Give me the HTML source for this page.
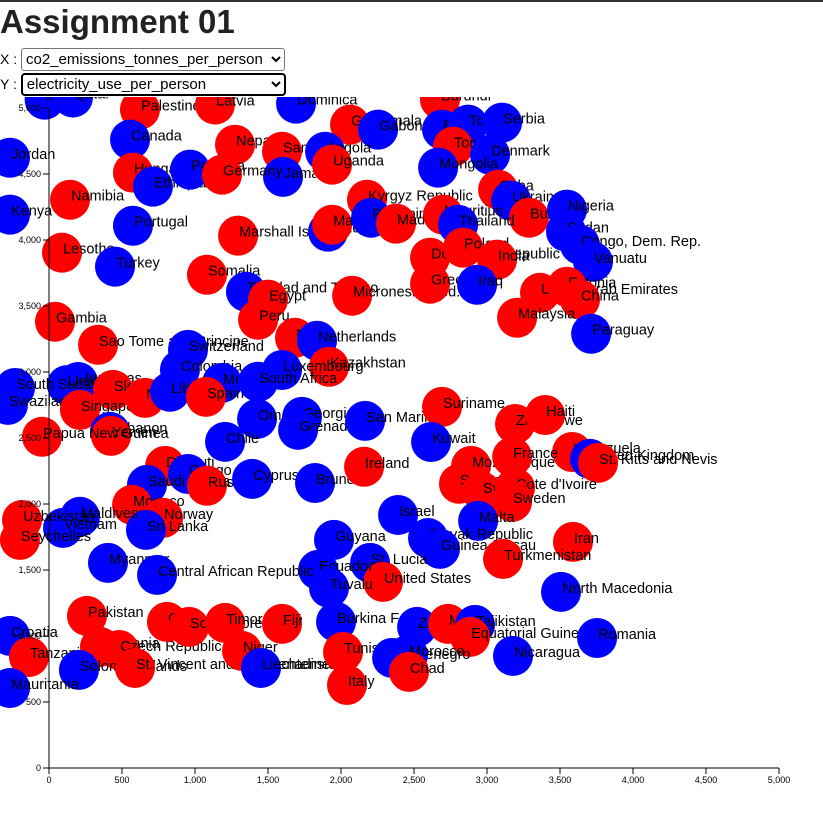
<!DOCTYPE html>
<html><head><meta charset="utf-8">
<style>
html,body{margin:0;padding:0;background:#fff;width:823px;height:817px;overflow:hidden;font-family:"Liberation Sans",sans-serif;}
#topline{position:absolute;left:0;top:0;width:823px;height:2px;background:#333;}
h1{position:absolute;left:0;top:2px;margin:0;font-size:33px;font-weight:bold;color:#222;line-height:40px;}
.row{position:absolute;left:0;font-size:14px;color:#000;}
.row select{font-family:"Liberation Sans",sans-serif;font-size:15px;height:23px;background:#fff;color:#000;}
#chart{position:absolute;left:0;top:97px;}
</style></head><body>
<div id="topline"></div>
<h1>Assignment 01</h1>
<div class="row" style="top:48px">
<span>X :</span>
<select style="width:264px;border:1px solid #767676;border-radius:3px;"><option>co2_emissions_tonnes_per_person</option></select>
</div>
<div class="row" style="top:73px">
<span>Y :</span>
<select style="width:265px;border:2px solid #000;border-radius:4px;"><option>electricity_use_per_person</option></select>
</div>
<svg id="chart" width="823" height="720"></svg>
<script>
const names=["Iceland","Qatar","Palestine","Latvia","Dominica","Burundi","Guatemala","Gabon","Canada","Jordan","Nepal","Samoa","Angola","Jamaica","Uganda","Hungary","Ethiopia","Panama","Germany","Namibia","Kenya","Portugal","Marshall Islands","Moldova","Malawi","Kyrgyz Republic","Philippines","Madagascar","Lesotho","Turkey","Somalia","Trinidad and Tobago","Egypt","Peru","Micronesia, Fed. Sts.","Gambia",
"Bahrain","Togo","Serbia","Tonga","Denmark","Mongolia","Cuba","Ukraine","Bulgaria","Nigeria","Sudan","Congo, Dem. Rep.","Vanuatu","Mauritius","Thailand","Dominican Republic","Poland","India","Greece","Iraq","United Arab Emirates","Estonia","China","Malaysia","Paraguay",
"Sao Tome and Principe","Switzerland","Colombia","Nauru","Netherlands","Kazakhstan","Luxembourg","Honduras","Uruguay","South Sudan","Swaziland","Slovenia","Singapore","New Zealand","Libya","Mexico","Spain","South Africa","Lebanon","Yemen","Papua New Guinea","Oman","Georgia","Grenada","San Marino","Chile","Djibouti","Congo, Rep.","Saudi Arabia","Russia","Cyprus","Brunei","Ireland","Monaco","Norway","Sri Lanka","Maldives","Vietnam","Uzbekistan","Seychelles",
"Suriname","Kuwait","Zimbabwe","Haiti","Venezuela","United Kingdom","St. Kitts and Nevis","Mozambique","France","Senegal","Syria","Cote d'Ivoire","Sweden","Malta","Israel","Guyana","Slovak Republic","Guinea-Bissau","Iran","Turkmenistan","St. Lucia","United States","Ecuador","Tuvalu","Myanmar","Central African Republic","North Macedonia",
"Pakistan","Croatia","Tanzania","Lithuania","Czech Republic","Solomon Islands","St. Vincent and the Grenadines","Cameroon","South Korea","Timor-Leste","Fiji","Niger","Liechtenstein","Burkina Faso","Tunisia","Italy","Mauritania","Zambia","Mali","Tajikistan","Equatorial Guinea","Montenegro","Morocco","Chad","Nicaragua","Romania"];
const co2=[-30,164,623,1137,1692,2678,2062,2254,555,-267,1274,1596,1891,1603,1939,575,712,966,1185,144,-267,575,1295,1911,1939,2178,2206,2377,89,452,1082,1349,1500,1432,2076,41,
2692,2870,3103,2767,3021,2665,3076,3165,3288,3548,3541,3637,3726,2699,2802,2610,2836,3069,2610,2932,3363,3548,3637,3206,3713,
336,952,897,1685,1836,1918,1596,199,123,-233,-281,438,212,658,829,1185,1075,1432,418,425,-48,1425,1733,1706,2165,1206,795,952,671,1082,1391,1822,2158,569,781,664,212,96,-185,-199,
2692,2617,3192,3398,3583,3706,3761,2891,3172,2808,2966,3192,3172,2939,2391,1952,2596,2678,3589,3110,2199,2288,1843,1918,404,740,3507,
260,-267,-137,349,480,205,589,808,959,1206,1596,1322,1452,1966,2014,2041,-267,2521,2733,2918,2884,2350,2459,2466,3178,3754];
const elec=[5063,5079,4988,5026,5033,5063,4874,4836,4760,4623,4722,4669,4669,4478,4571,4510,4404,4533,4495,4305,4192,4108,4033,4063,4116,4305,4169,4124,3904,3798,3737,3608,3548,3396,3578,3381,
4836,4874,4889,4707,4646,4548,4381,4298,4169,4230,4063,3964,3835,4192,4116,3866,3942,3851,3669,3661,3600,3646,3548,3411,3290,
3206,3168,3017,3259,3237,3040,3015,2924,2901,2879,2751,2865,2713,2804,2850,2918,2812,2926,2546,2516,2509,2645,2660,2562,2630,2471,2289,2227,2145,2138,2190,2159,2282,1994,1895,1804,1903,1819,1879,1728,
2736,2470,2606,2674,2394,2342,2312,2289,2357,2153,2092,2122,2016,1872,1917,1728,1742,1660,1713,1584,1554,1410,1501,1364,1554,1463,1334,
1152,1001,841,917,894,743,758,1107,1069,1099,1092,887,758,1107,879,629,606,1069,1092,1084,993,834,857,728,849,985];
const group=["b","b","r","r","b","r","r","b","b","b","r","r","b","b","r","r","b","b","r","r","b","b","r","b","r","r","b","r","r","b","r","b","r","r","r","r",
"b","b","b","r","b","b","r","b","r","b","b","b","b","r","b","r","r","r","r","b","r","r","r","r","b",
"r","b","b","r","b","r","b","b","b","b","b","r","r","r","b","b","r","b","b","r","r","b","b","b","b","b","r","b","b","r","b","b","r","r","r","b","b","b","r","r",
"r","b","r","r","r","b","r","r","r","r","r","r","r","b","b","b","b","b","r","r","b","r","b","b","b","b","b",
"r","b","r","r","r","b","r","r","r","r","r","r","b","b","r","r","b","b","r","b","r","b","b","r","b","b"];
const xTicks=[0,500,1000,1500,2000,2500,3000,3500,4000,4500,5000];
const yTicks=[0,500,1000,1500,2000,2500,3000,3500,4000,4500,5000];

const NS="http://www.w3.org/2000/svg";
const svg=document.getElementById('chart');
const root=document.createElementNS(NS,'g');
root.setAttribute('transform','translate(0,-97)');
svg.appendChild(root);
const X0=49,X1=779,Y0=768,Y1=108;
function sx(v){return X0+(v/5000)*(X1-X0);}
function sy(v){return Y0-(v/5000)*(Y0-Y1);}
function fmt(v){return v.toLocaleString('en-US');}
function mk(tag,attrs,parent){const e=document.createElementNS(NS,tag);for(const k in attrs)e.setAttribute(k,attrs[k]);(parent||root).appendChild(e);return e;}

const pts=mk('g',{});


for(let i=0;i<names.length;i++){
  const g=mk('g',{},pts);
  
  
  const cx=sx(co2[i]),cy=sy(elec[i]);
  const c=mk('circle',{cx:cx,cy:cy,r:20,fill:group[i]==='r'?'#ff0000':'#0000ff'},g);
  
  
  const t=mk('text',{x:cx+1,y:cy+1,'font-size':'14.5','font-family':'Liberation Sans, sans-serif',fill:'#000'},g);
  
  
  t.textContent=names[i];
}

const xa=mk('g',{});


mk('line',{x1:X0,y1:Y0,x2:X1,y2:Y0,stroke:'#000','stroke-width':1},xa);
xTicks.forEach(v=>{
  mk('line',{x1:sx(v),y1:Y0,x2:sx(v),y2:Y0+6,stroke:'#000'},xa);
  const t=mk('text',{x:sx(v),y:Y0+15,'font-size':'9','text-anchor':'middle','font-family':'Liberation Sans, sans-serif'},xa);
  
  
  t.textContent=fmt(v);
});
const ya=mk('g',{});


mk('line',{x1:X0,y1:Y0,x2:X0,y2:Y1,stroke:'#000','stroke-width':1},ya);
yTicks.forEach(v=>{
  mk('line',{x1:X0-6,y1:sy(v),x2:X0,y2:sy(v),stroke:'#000'},ya);
  const t=mk('text',{x:X0-8,y:sy(v)+3,'font-size':'9','text-anchor':'end','font-family':'Liberation Sans, sans-serif'},ya);
  
  
  t.textContent=fmt(v);
});
</script>
</body></html>
